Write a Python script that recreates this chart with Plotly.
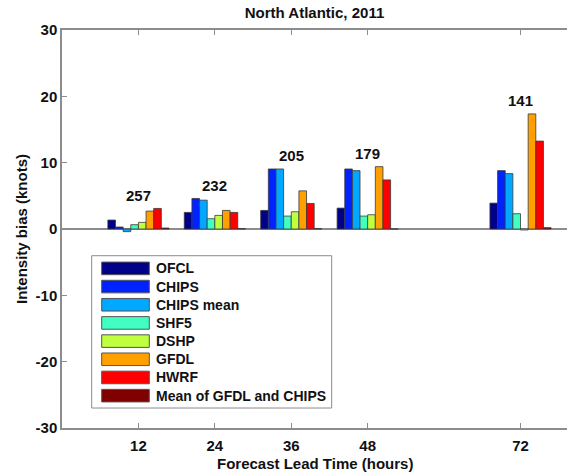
import plotly.graph_objects as go

# ---- data ----
lead_hours = [12, 24, 36, 48, 72]
case_counts = [257, 232, 205, 179, 141]
series_names = ["OFCL", "CHIPS", "CHIPS mean", "SHF5", "DSHP", "GFDL", "HWRF",
                "Mean of GFDL and CHIPS"]
ofcl = [1.35, 2.5, 2.8, 3.15, 3.9]
chips = [0.3, 4.6, 9.05, 9.05, 8.8]
chips_mean = [-0.4, 4.35, 9.05, 8.8, 8.35]
shf5 = [0.65, 1.55, 1.95, 1.95, 2.3]
dshp = [1.0, 2.05, 2.6, 2.15, -0.15]
gfdl = [2.7, 2.8, 5.75, 9.4, 17.35]
hwrf = [3.1, 2.5, 3.85, 7.4, 13.25]
mean_gfdl_chips = [0.15, 0.05, 0.05, 0.0, 0.2]
y_ticks = [-30, -20, -10, 0, 10, 20, 30]
y_tick_labels = ["-30", "-20", "-10", "0", "10", "20", "30"]

series_values = [ofcl, chips, chips_mean, shf5, dshp, gfdl, hwrf, mean_gfdl_chips]
colors = ["#000088", "#0022FF", "#00A8FF", "#40FFC0", "#C0FF40", "#FF9F00",
          "#FF0000", "#800000"]

W, H = 567, 473
L, R, T, B = 62, 567, 30, 428.5
FONT = "Liberation Sans"

def px(x):
    return (x - L) / (R - L)

def py(y):
    return (B - y) / (B - T)

fig = go.Figure()
for name, vals, col in zip(series_names, series_values, colors):
    fig.add_trace(go.Bar(x=lead_hours, y=vals, name=name,
                         marker=dict(color=col, line=dict(color="#3a3a3a", width=0.8)),
                         showlegend=False))

# count labels above each group
for i, (h, c) in enumerate(zip(lead_hours, case_counts)):
    top = max(s[i] for s in series_values)
    fig.add_annotation(x=h, y=top + 2.0, text=str(c), showarrow=False,
                       xanchor="center", yanchor="middle",
                       font=dict(family=FONT, size=15, color="#111", weight="bold"))

# custom legend
shapes = [dict(type="rect", xref="paper", yref="paper",
               x0=px(91.7), x1=px(331.7), y0=py(408.5), y1=py(256),
               line=dict(color="#8c8c8c", width=1), fillcolor="white", layer="above")]
for k, (name, col) in enumerate(zip(series_names, colors)):
    cy = 268.7 + 18.2 * k
    shapes.append(dict(type="rect", xref="paper", yref="paper",
                       x0=px(101.7), x1=px(149.3), y0=py(cy + 6.3), y1=py(cy - 6.3),
                       line=dict(color="#555", width=1), fillcolor=col, layer="above"))
    fig.add_annotation(xref="paper", yref="paper", x=px(154), y=py(cy), text=name,
                       showarrow=False, xanchor="left", yanchor="middle",
                       font=dict(family=FONT, size=14, color="#111", weight="bold"))

# axis titles
fig.add_annotation(xref="paper", yref="paper", x=0.5, y=py(464),
                   text="Forecast Lead Time (hours)", showarrow=False,
                   xanchor="center", yanchor="middle",
                   font=dict(family=FONT, size=15, color="#111", weight="bold"))
fig.add_annotation(xref="paper", yref="paper", x=px(21), y=0.5,
                   text="Intensity bias (knots)", showarrow=False, textangle=-90,
                   xanchor="center", yanchor="middle",
                   font=dict(family=FONT, size=15, color="#111", weight="bold"))

fig.update_layout(
    width=W, height=H,
    margin=dict(l=L, r=W - R, t=T, b=H - B, pad=0),
    paper_bgcolor="white", plot_bgcolor="white",
    barmode="group", bargap=0.2, bargroupgap=0,
    shapes=shapes,
    title=dict(text="North Atlantic, 2011", x=0.5, xref="paper",
               y=1 - 12.7 / H, yref="container", xanchor="center", yanchor="middle",
               font=dict(family=FONT, size=15, color="#111", weight="bold")),
    xaxis=dict(range=[0, 79.3], tickvals=lead_hours, ticktext=[str(h) for h in lead_hours],
               showgrid=False, zeroline=False, showline=True, linecolor="#8c8c8c",
               linewidth=1.5, mirror="ticks", ticks="inside", ticklen=5,
               tickcolor="#8c8c8c", tickwidth=1, ticklabelstandoff=3,
               tickfont=dict(family=FONT, size=15, color="#111", weight="bold")),
    yaxis=dict(range=[-30, 30], tickvals=y_ticks, ticktext=y_tick_labels, showgrid=False,
               zeroline=True, zerolinecolor="#8c8c8c", zerolinewidth=1.5,
               showline=True, linecolor="#8c8c8c", linewidth=1.5,
               ticks="inside", ticklen=5, tickcolor="#8c8c8c", tickwidth=1,
               tickfont=dict(family=FONT, size=15, color="#111", weight="bold")),
)

fig.write_html("out.html")
